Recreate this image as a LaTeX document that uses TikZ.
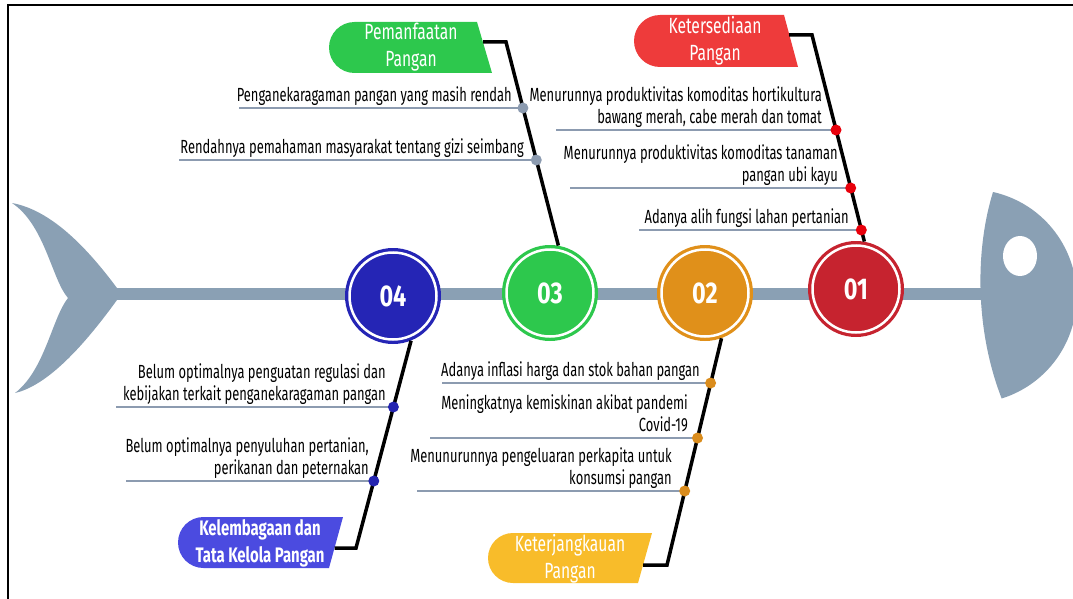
\documentclass[tikz,border=0pt]{standalone}
\usepackage{fontspec}
\setmainfont{Fira Sans}[FakeStretch=0.78]
\newfontfamily\causefont{Fira Sans}[FakeStretch=0.68]
\newfontfamily\catfont{Fira Sans}[FakeStretch=0.71]
\usetikzlibrary{calc}

\definecolor{fishgray}{HTML}{8AA0B4}
\definecolor{ribgray}{HTML}{8C9BB0}
\definecolor{c1red}{HTML}{C6232F}
\definecolor{c2orange}{HTML}{E0901A}
\definecolor{c3green}{HTML}{2DC84D}
\definecolor{c4blue}{HTML}{2525B5}
\definecolor{boxred}{HTML}{EE3B3B}
\definecolor{boxyellow}{HTML}{F8BC2A}
\definecolor{boxblue}{HTML}{4B4BE0}
\definecolor{dotred}{HTML}{E8000B}
\definecolor{dotorange}{HTML}{DA8C1C}
\definecolor{dotblue}{HTML}{2424B0}

\begin{document}
\begin{tikzpicture}[x=1pt,y=-1pt,
  rib/.style={line width=2pt,draw=ribgray},
  bone/.style={line width=3.5pt,line join=miter},
  dot/.style={circle,inner sep=0pt,minimum size=11pt},
  num/.style={circle,inner sep=0pt,minimum size=96pt,text=white,font=\bfseries\fontsize{30}{30}\selectfont},
  cause/.style={inner sep=0pt,align=right,anchor=south east,text depth=4pt,font=\causefont\fontsize{19}{22}\selectfont},
  cat/.style={inner sep=0pt,align=center,text=white,font=\catfont\fontsize{22}{27}\selectfont}]
  \useasboundingbox (0,0) rectangle (1073,599);
  % frame
  \draw[line width=2pt] (8,605) -- (8,5) -- (1080,5);
  % fish: tail, spine, head
  \fill[fishgray] (117,288) .. controls (85,245) and (50,210) .. (12,203) .. controls (45,225) and (52,280) .. (68,298)
    .. controls (52,318) and (45,370) .. (15,393) .. controls (50,385) and (88,340) .. (117,300) -- cycle;
  \fill[fishgray] (110,288) rectangle (990,300);
  \fill[fishgray] (993,192) arc[start angle=-77.4,end angle=72.6,radius=107] .. controls (975,330) and (975,250) .. (993,192) -- cycle;
  \fill[white] (1020,256) ellipse[x radius=17,y radius=20];
  % numbered circles
  \foreach \n/\x/\y/\c in {04/393/296/c4blue,03/550/293/c3green,02/705/293/c2orange,01/856/289/c1red} {
    \node[num,fill=\c] (c\n) at (\x,\y) {\n};
    \draw[white,line width=2.5pt] (c\n.center) circle (43.5);
  }
  % category boxes
  \fill[c3green] (354.5,22) -- (477,22) -- (492,73) -- (354.5,73) arc[start angle=90,end angle=270,radius=25.5] -- cycle;
  \fill[boxred] (660,15) -- (784,15) -- (798,67) -- (660,67) arc[start angle=90,end angle=270,radius=26] -- cycle;
  \fill[boxyellow] (513,533) -- (652,533) -- (638,583) -- (513,583) arc[start angle=90,end angle=270,radius=25] -- cycle;
  \fill[boxblue] (203.5,517) -- (343,517) -- (329,568) -- (203.5,568) arc[start angle=90,end angle=270,radius=25.5] -- cycle;
  \node[cat] (pm) at (411,47) {Pemanfaatan\\Pangan};
  \node[cat] (kt) at (715,41) {Ketersediaan\\Pangan};
  \node[cat] (kj) at (570,559) {Keterjangkauan\\Pangan};
  \node[cat,font=\catfont\bfseries\fontsize{21}{27}\selectfont] (kl) at (260,543) {Kelembagaan dan\\Tata Kelola Pangan};
  % bones
  \coordinate (pmR) at (483,42);   \coordinate (k3) at (506,42);
  \coordinate (ktR) at (789,35);   \coordinate (k1) at (812,35);
  \coordinate (kjR) at (643,565);  \coordinate (k2) at (667,565);
  \coordinate (klR) at (334.5,548);\coordinate (k4) at (356,548);
  \draw[bone] (pmR) -- (k3) -- (c03.80);
  \draw[bone] (ktR) -- (k1) -- (c01.80);
  \draw[bone] (kjR) -- (k2) -- (c02.-70);
  \draw[bone] (klR) -- (k4) -- (c04.-68);
  % ribs and dots
  \foreach \n/\x/\y/\l/\c in {31/522.9/108/239/ribgray,32/536.3/160/179/ribgray,
      11/836/130/556/dotred,12/850.7/188/570/dotred,13/861.3/230/639/dotred,
      21/710.6/383/442/dotorange,22/697.5/438/430/dotorange,23/684.7/491/417/dotorange,
      41/393.4/407/116/dotblue,42/373.8/481/126/dotblue} {
    \coordinate (p\n) at (\x,\y);
    \coordinate (r\n) at (\l,\y);
    \draw[rib] (r\n) -- (p\n);
    \node[dot,fill=\c] (d\n) at (p\n) {};
  }
  % causes
  \node[cause] (t31) at (512,106) {Penganekaragaman pangan yang masih rendah};
  \node[cause] (t32) at (524,158) {Rendahnya pemahaman masyarakat tentang gizi seimbang};
  \node[cause] (t11) at (822,128) {Menurunnya produktivitas komoditas hortikultura\\bawang merah, cabe merah dan tomat};
  \node[cause] (t12) at (838,186) {Menurunnya produktivitas komoditas tanaman\\pangan ubi kayu};
  \node[cause] (t13) at (849,228) {Adanya alih fungsi lahan pertanian};
  \node[cause] (t21) at (700,381) {Adanya inflasi harga dan stok bahan pangan};
  \node[cause] (t22) at (688,436) {Meningkatnya kemiskinan akibat pandemi\\Covid-19};
  \node[cause] (t23) at (672,489) {Menunurunnya pengeluaran perkapita untuk\\konsumsi pangan};
  \node[cause] (t41) at (386,405) {Belum optimalnya penguatan regulasi dan\\kebijakan terkait penganekaragaman pangan};
  \node[cause] (t42) at (369,479) {Belum optimalnya penyuluhan pertanian,\\perikanan dan peternakan};
\end{tikzpicture}
\end{document}
